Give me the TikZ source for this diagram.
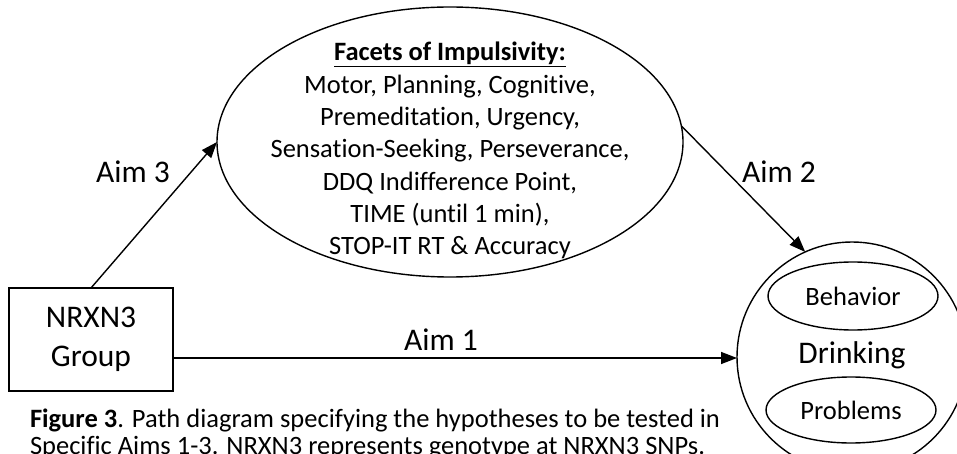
\documentclass[tikz,border=0pt]{standalone}
\usepackage{fontspec}
\setmainfont{Carlito}[Ligatures={NoCommon}]
\usetikzlibrary{shapes.geometric,arrows.meta}
\begin{document}
\begin{tikzpicture}[x=1pt,y=-1pt, line width=1.4pt,
  every node/.style={inner sep=0pt, outer sep=0pt},
  oval/.style={draw, ellipse, inner sep=0pt},
  arr/.style={-{Triangle[length=16pt,width=12pt]}},
  big/.style={font=\fontsize{31.5}{38.5}\selectfont},
  mid/.style={font=\fontsize{26.5}{32.3}\selectfont}]
\useasboundingbox (0,0) rectangle (957,454);
% impulsivity ellipse
\node[oval, minimum width=466pt, minimum height=270pt] (imp) at (450,142) {};
\node[mid, align=center] (imptext) at (450,150.6) {\textbf{\underline{Facets of Impulsivity:}}\\Motor, Planning, Cognitive,\\Premeditation, Urgency,\\Sensation-Seeking, Perseverance,\\DDQ Indifference Point,\\TIME (until 1 min),\\STOP-IT RT \& Accuracy};
% drinking
\node[draw, circle, minimum size=230pt] (drink) at (852,357) {};
\node[big] (drinktext) at (852,355) {Drinking};
\node[oval, mid, minimum width=170pt, minimum height=68pt] (beh) at (853,296) {Behavior};
\node[oval, mid, minimum width=170pt, minimum height=66pt] (prob) at (851,410) {Problems};
% group box
\node[draw, big, align=center, minimum width=164pt, minimum height=103pt] (grp) at (91,339.5) {NRXN3\\Group};
% arrows
\draw[arr] (grp.north) -- (imp.west);
\draw[arr] (imp.4) -- (drink.114);
\draw[arr] ([yshift=-18.5pt]grp.east) -- ([yshift=-18.5pt]grp.east -| drink.west);
% labels
\node[big, anchor=base] (a3) at (133,183) {Aim 3};
\node[big, anchor=base] (a2) at (779,183) {Aim 2};
\node[big, anchor=base] (a1) at (441,350) {Aim 1};
% caption
\node[font=\fontsize{26.5}{27}\selectfont, anchor=north west, align=left] (cap) at (30,409) {\textbf{Figure 3}. Path diagram specifying the hypotheses to be tested in\\Specific Aims 1-3. NRXN3 represents genotype at NRXN3 SNPs.};
\end{tikzpicture}
\end{document}
